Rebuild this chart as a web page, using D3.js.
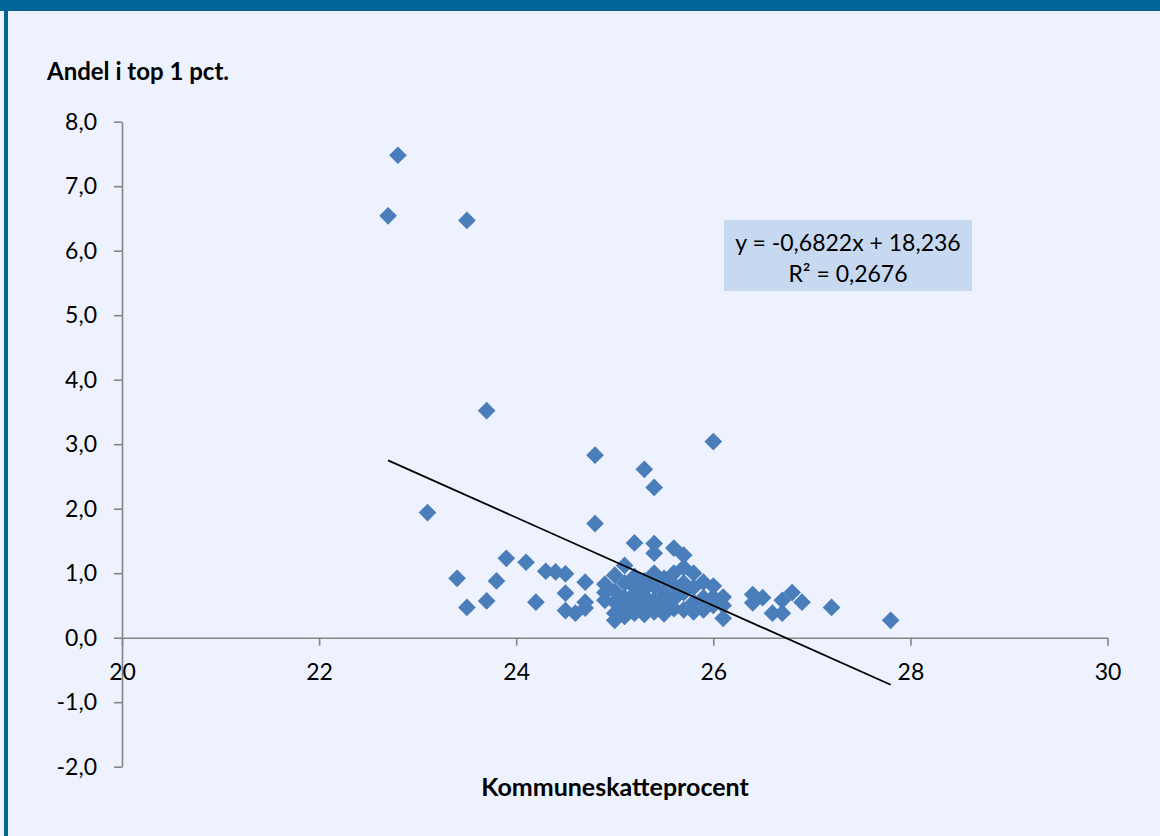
<html>
<head>
<meta charset="utf-8">
<script src="https://d3js.org/d3.v7.min.js"></script>
<style>
  body { margin: 0; background: #eef2fe; }
  svg text { font-family: Lato, "Open Sans", sans-serif; fill: #000; }
</style>
</head>
<body>
<svg width="1160" height="836"></svg>
<script>
// kommuneskatteprocent (x) og andel i top 1 pct. (y)
var skat = [22.7, 22.8, 23.5, 23.7, 23.1, 23.4, 23.5, 23.7, 23.8, 23.9,
            24.1, 24.2, 24.3, 24.4, 24.5, 24.5, 24.5, 24.6, 24.7, 24.7,
            24.7, 24.8, 24.8, 25.3, 25.4, 26.0, 25.2, 25.4, 25.4, 25.6,
            25.7, 25.1, 25.7, 25.8, 25.9, 26.1, 26.1, 26.4, 26.5, 26.4,
            26.6, 26.7, 26.7, 26.8, 26.9, 27.2, 27.8, 25.0, 24.9, 25.0,
            25.4, 25.5, 25.7, 24.9, 25.0, 25.1, 25.0, 25.0, 25.1, 25.1,
            25.1, 25.2, 25.2, 25.2, 25.3, 25.3, 25.3, 25.3, 25.4, 25.4,
            25.4, 25.5, 25.5, 25.5, 25.6, 25.6, 25.6, 25.7, 25.7, 25.8,
            25.8, 25.8, 25.9, 25.9, 26.0, 26.0, 26.1, 24.9, 25.2, 25.6,
            25.2, 25.4, 25.3, 25.5, 26.0];
var andel = [6.54, 7.48, 6.47, 3.52, 1.94, 0.92, 0.47, 0.57, 0.88, 1.23,
             1.17, 0.55, 1.03, 1.02, 0.99, 0.69, 0.42, 0.38, 0.46, 0.55,
             0.86, 2.83, 1.77, 2.61, 2.33, 3.04, 1.47, 1.46, 1.31, 1.39,
             1.28, 1.12, 1.09, 1.00, 0.86, 0.63, 0.30, 0.67, 0.62, 0.54,
             0.38, 0.38, 0.58, 0.70, 0.55, 0.47, 0.27, 0.27, 0.83, 0.97,
             1.00, 0.92, 0.85, 0.58, 0.38, 0.33, 0.72, 0.55, 0.85, 0.62,
             0.45, 0.78, 0.55, 0.38, 0.88, 0.65, 0.48, 0.36, 0.80, 0.58,
             0.40, 0.70, 0.52, 0.37, 0.82, 0.60, 0.45, 0.70, 0.43, 0.78,
             0.55, 0.40, 0.62, 0.43, 0.63, 0.50, 0.50, 0.70, 0.95, 1.00,
             0.68, 0.90, 0.75, 0.62, 0.80];
var xTicks = [20, 22, 24, 26, 28, 30];
var yTicks = [-2, -1, 0, 1, 2, 3, 4, 5, 6, 7, 8];
var slope = -0.6822, intercept = 18.236;

var svg = d3.select("svg");

// ramme
svg.append("rect").attr("x", 0).attr("y", 0).attr("width", 1160).attr("height", 11).attr("fill", "#006497");
svg.append("rect").attr("x", 4).attr("y", 0).attr("width", 4).attr("height", 836).attr("fill", "#006497");

var x = d3.scaleLinear().domain([20, 30]).range([122, 1107.5]);
var y = d3.scaleLinear().domain([-2, 8]).range([766.7, 121.7]);

var fmt = function(d) { return d3.format(".1f")(d).replace(".", ",").replace("−", "-"); };

var yAxis = svg.append("g").attr("transform", "translate(122,0)")
  .call(d3.axisLeft(y).tickValues(yTicks).tickSize(8).tickSizeOuter(0).tickPadding(17).tickFormat(fmt));
yAxis.selectAll("text").style("font-size", "23px");

var xAxis = svg.append("g").attr("transform", "translate(0," + y(0) + ")")
  .call(d3.axisBottom(x).tickValues(xTicks).tickSize(8).tickSizeOuter(0).tickPadding(18).tickFormat(d3.format("d")));
xAxis.selectAll("text").style("font-size", "23px");

svg.selectAll(".domain, .tick line").attr("stroke", "#868686").attr("stroke-width", 1.6);

// punkter
var pts = skat.map(function(d, i) { return [d, andel[i]]; });
svg.append("g").selectAll("path")
  .data(pts)
  .join("path")
  .attr("transform", function(d) { return "translate(" + x(d[0]) + "," + y(d[1]) + ")"; })
  .attr("d", d3.symbol().type(d3.symbolDiamond2).size(200))
  .attr("fill", "#4a7ebb");

// trendlinje
var x0 = d3.min(skat), x1 = d3.max(skat);
svg.append("line")
  .attr("x1", x(x0)).attr("y1", y(slope * x0 + intercept))
  .attr("x2", x(x1)).attr("y2", y(slope * x1 + intercept))
  .attr("stroke", "#000").attr("stroke-width", 1.8);

// ligning
svg.append("rect").attr("x", 724).attr("y", 220).attr("width", 248).attr("height", 71).attr("fill", "#c6d9f1");
svg.append("text").attr("x", 848).attr("y", 251).attr("text-anchor", "middle").style("font-size", "23px")
  .text("y = -0,6822x + 18,236");
svg.append("text").attr("x", 848).attr("y", 282).attr("text-anchor", "middle").style("font-size", "23px")
  .text("R² = 0,2676");

// titler
svg.append("text").attr("x", 47).attr("y", 80).style("font-size", "24px").style("font-weight", "bold")
  .text("Andel i top 1 pct.");
svg.append("text").attr("x", 615).attr("y", 796).attr("text-anchor", "middle").style("font-size", "25px").style("font-weight", "bold")
  .text("Kommuneskatteprocent");
</script>
</body>
</html>
